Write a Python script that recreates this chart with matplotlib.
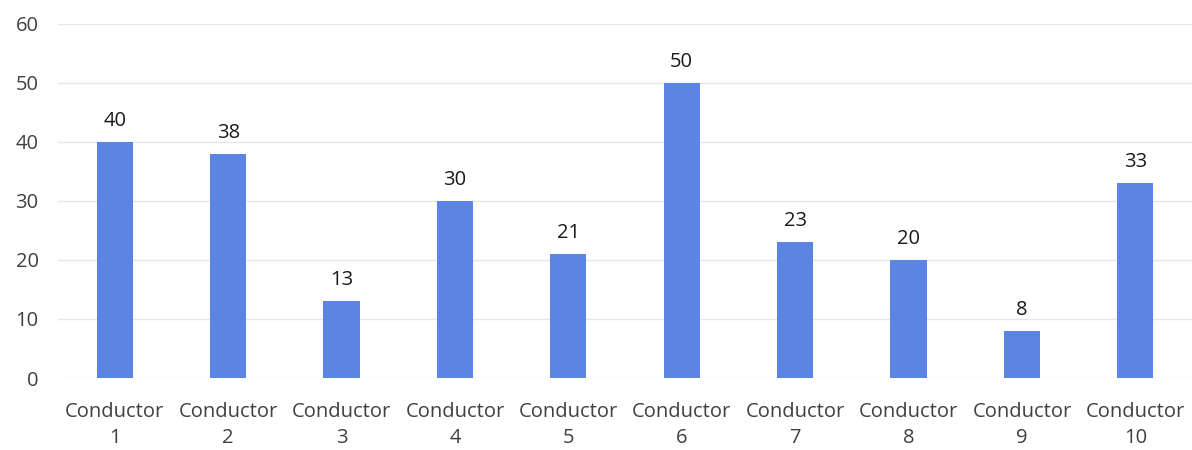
import matplotlib
matplotlib.use("Agg")
import matplotlib.pyplot as plt

categories = [f"Conductor\n{i}" for i in range(1, 11)]
values = [40, 38, 13, 30, 21, 50, 23, 20, 8, 33]
yticks = [0, 10, 20, 30, 40, 50, 60]

plt.rcParams['font.family'] = ['Open Sans', 'DejaVu Sans']

fig = plt.figure(figsize=(11.92, 4.5), dpi=100)
ax = fig.add_axes([0.0487, 0.16, 0.9513, 0.7867])

x = list(range(len(values)))
bars = ax.bar(x, values, width=0.32, color='#5B84E3', zorder=3)
for xi, v in zip(x, values):
    ax.annotate(str(v), (xi, v), xytext=(0, 8), textcoords='offset points',
                ha='center', va='bottom', fontsize=14.5, color='#1a1a1a')

ax.set_xlim(-0.5, len(values) - 0.5)
ax.set_ylim(0, 60)
ax.set_yticks(yticks)
ax.set_xticks(x)
ax.set_xticklabels(categories, fontsize=14.5, color='#404040', linespacing=1.4)
ax.tick_params(axis='y', labelsize=14.5, labelcolor='#404040', length=0, pad=14)
ax.tick_params(axis='x', length=0, pad=17)
ax.grid(axis='y', color='#e6e6e6', linewidth=1, zorder=0)
for s in ax.spines.values():
    s.set_visible(False)

fig.savefig("out.png", dpi=100)
